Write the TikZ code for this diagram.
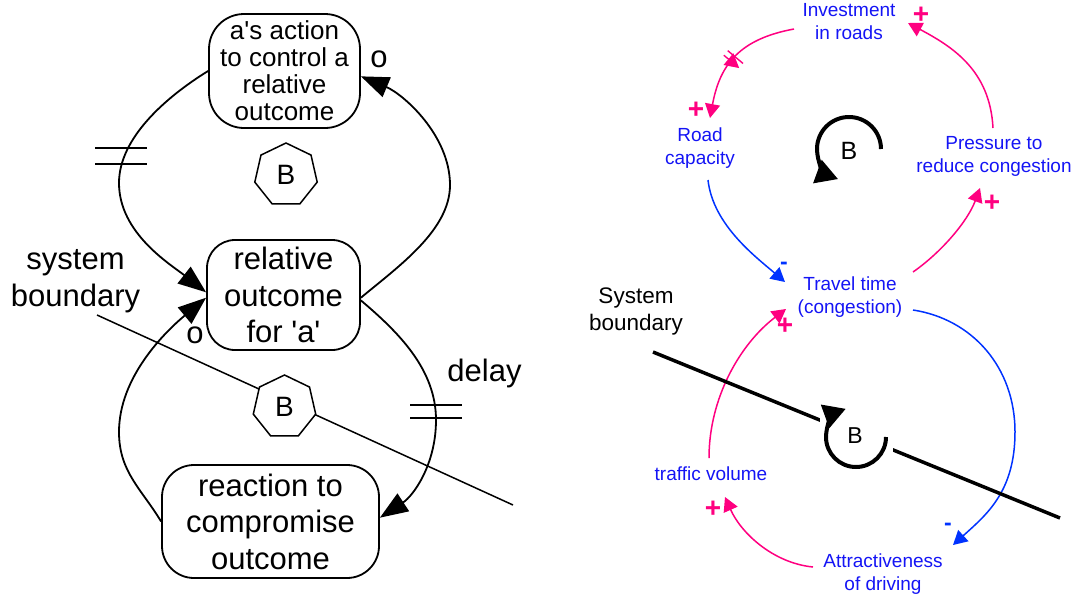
\documentclass[tikz,border=0pt]{standalone}
\usepackage{fontspec}
\setmainfont{Liberation Sans}
\usetikzlibrary{arrows.meta,shapes.geometric,decorations.markings}

\definecolor{cldpink}{RGB}{255,0,128}
\definecolor{cldblue}{RGB}{20,20,245}
\definecolor{linkblue}{RGB}{0,50,255}

\begin{document}
\begin{tikzpicture}[x=1pt,y=1pt,yscale=-1,
  box/.style={draw, line width=1.8pt, align=center, inner sep=0pt},
  bigtext/.style={font=\fontsize{31}{36.5}\selectfont, align=center},
  link/.style={line width=1.8pt, -{Triangle[length=28pt,width=21pt]}},
  loopmark/.style={draw, line width=1.5pt, fill=white, regular polygon,
    regular polygon sides=7, minimum size=64pt, inner sep=0pt,
    font=\fontsize{28}{28}\selectfont},
  var/.style={text=cldblue, font=\fontsize{19}{23}\selectfont, align=center, inner sep=0pt},
  poslink/.style={cldpink, line width=1.5pt, -{Triangle[length=14pt,width=15pt]}},
  neglink/.style={linkblue, line width=1.5pt, -{Triangle[length=14pt,width=15pt]}},
  plussign/.style={text=cldpink, font=\fontsize{28}{28}\selectfont\bfseries, inner sep=0pt},
  minussign/.style={text=linkblue, font=\fontsize{23}{23}\selectfont\bfseries, inner sep=0pt},
  delaymark/.style={postaction={decorate}, decoration={markings,
    mark=at position #1 with {\draw[cldpink, line width=1.4pt]
      (-3,-10) -- (-3,10) (3,-10) -- (3,10);}}},
  loopring/.style={line width=4pt, -{Triangle[length=22pt,width=24pt]}},
]
\useasboundingbox (0,0) rectangle (1074,598);

% ---------------- left loop pair ----------------
\node[box, rounded corners=35pt, minimum width=151pt, minimum height=114pt,
      font=\fontsize{26}{27}\selectfont] (A) at (284.5,71)
      {a\textquotesingle s action\\to control a\\relative\\outcome};
\node[box, bigtext, rounded corners=28pt, minimum width=153pt, minimum height=110pt]
      (B) at (283.5,295) {relative\\outcome\\for \textquotesingle a\textquotesingle};
\node[box, bigtext, rounded corners=32pt, minimum width=217pt, minimum height=113pt]
      (C) at (270.5,521.5) {reaction to\\compromise\\outcome};

\node[loopmark] (L1) at (286,175) {B};

% system boundary crossing the lower loop
\coordinate (sb1) at (97,315);
\coordinate (sb2) at (513,505);
\draw[line width=1.5pt] (sb1) -- (sb2);
\node[loopmark] (L2) at (284.5,407) {B};

\node[bigtext] (sysL) at (75.5,281) {system\\boundary};
\node[bigtext] (delayL) at (484.5,373) {delay};
\node[bigtext] (o1) at (379,59) {o};
\node[bigtext] (o2) at (195,335) {o};

\draw[link] (A.west) .. controls (166,97) and (119,138) .. (119,183)
            .. controls (119,233) and (170,264) .. (B.178);
\draw[link] (B.-2) .. controls (399,266) and (450,230) .. (450,185)
            .. controls (450,135) and (403,94) .. (A.-4);
\draw[link] (B.-4) .. controls (399.5,333) and (436,370) .. (436,420)
            .. controls (436,465) and (413,496) .. (C.2);
\draw[link] (C.west) .. controls (141.6,489) and (119,472) .. (119,432)
            .. controls (119,377) and (165,332) .. (B.182);

% delay marks
\draw[line width=1.8pt] (95,148) -- (147,148) (95,164) -- (147,164);
\draw[line width=1.8pt] (410,405) -- (462,405) (410,418) -- (462,418);

% ---------------- right causal loop diagram ----------------
\node[var] (inv) at (849,22) {Investment\\in roads};
\node[var] (road) at (700,148.5) {Road\\capacity};
\node[var] (press) at (994,156) {Pressure to\\reduce congestion};
\node[var] (travel) at (850,297) {Travel time\\(congestion)};
\node[var] (traffic) at (711,474) {traffic volume};
\node[var] (attract) at (883,574.5) {Attractiveness\\of driving};
\node[font=\fontsize{22.5}{27}\selectfont, align=center, inner sep=0pt] (sysR) at (636,311) {System\\boundary};

% link end points
\coordinate (inv-out) at (794,29);
\coordinate (road-in) at (710,118);
\coordinate (press-out) at (993,128);
\coordinate (inv-in) at (908,23);
\coordinate (road-out) at (708,180);
\coordinate (travel-in1) at (785,282);
\coordinate (travel-out1) at (913,272);
\coordinate (press-in) at (980,188);
\coordinate (travel-out2) at (913,310);
\coordinate (attr-in) at (953,545);
\coordinate (attr-out) at (813,567);
\coordinate (traf-in) at (725,497);
\coordinate (traf-out) at (709,458);
\coordinate (travel-in2) at (786,309);

\draw[poslink, delaymark=0.52] (inv-out) .. controls (740,39) and (720,64) .. (road-in);
\draw[poslink] (press-out) .. controls (990,70) and (952,46.5) .. (inv-in);
\draw[neglink] (road-out) .. controls (713,225) and (756,257) .. (travel-in1);
\draw[poslink] (travel-out1) .. controls (941.7,252) and (967.75,221) .. (press-in);
\draw[neglink] (travel-out2) .. controls (972,319) and (1015,367) .. (1015,432)
           .. controls (1015,492) and (986,515) .. (attr-in);
\draw[poslink] (attr-out) .. controls (773,563) and (741,533) .. (traf-in);
\draw[poslink] (traf-out) .. controls (709,398) and (740,344) .. (travel-in2);

% polarity signs
\node[plussign] (s1) at (696,110) {+};
\node[plussign] (s2) at (921,15) {+};
\node[plussign] (s3) at (992,203) {+};
\node[plussign] (s4) at (785,326) {+};
\node[plussign] (s5) at (713,509) {+};
\node[minussign] (s6) at (784,266) {-};
\node[minussign] (s7) at (948,527) {-};

% loop symbol of the upper loop
\draw[loopring] (881,149) arc[start angle=0, end angle=-250, radius=32];
\node[font=\fontsize{25}{25}\selectfont, inner sep=0pt] (BR1) at (849,151) {B};

% system boundary with the lower loop symbol on a white patch
\coordinate (sr1) at (653,352);
\coordinate (sr2) at (1060,518);
\draw[line width=3.5pt] (sr1) -- (sr2);
\fill[white] (820,393) rectangle (893,478);
\draw[loopring] (886,437) arc[start angle=0, end angle=250, radius=30];
\node[font=\fontsize{23}{23}\selectfont, inner sep=0pt] (BR2) at (855,436) {B};

\end{tikzpicture}
\end{document}
